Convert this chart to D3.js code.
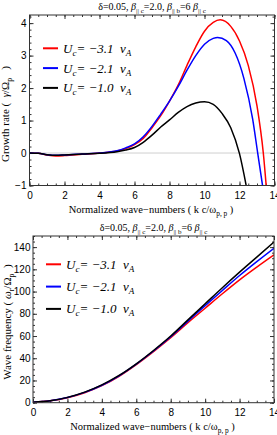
<!DOCTYPE html>
<html>
<head>
<meta charset="utf-8">
<script src="https://cdn.jsdelivr.net/npm/d3@7"></script>
<style>
body { margin: 0; background: #fff; }
svg text { font-family: "Liberation Serif", "Times New Roman", serif; fill: #000; white-space: pre; }
.tick text { font-family: "Liberation Sans", Arial, sans-serif; font-size: 10px; }
.tick line { stroke: #333; }
</style>
</head>
<body>
<div id="chart"></div>
<script>
// Legend values (U_c in units of v_A)
var seriesNames = ["-3.1", "-2.1", "-1.0"];

// Growth rate (gamma / Omega_p) vs k, one k-array per curve
var growthRedK = [0, 0.5, 1, 1.5, 2, 3, 4, 5, 5.5, 6, 6.5, 7, 7.5, 8, 8.5, 9, 9.5, 10, 10.5, 10.9, 11.5, 12, 12.5, 13, 13.36, 13.6];
var growthRed = [0, -0.01, -0.06, -0.09, -0.08, -0.04, 0, 0.06, 0.14, 0.26, 0.45, 0.78, 1.15, 1.6, 2.1, 2.7, 3.27, 3.75, 4.02, 4.1, 3.9, 3.45, 2.7, 1.45, 0, -1.5];
var growthBlueK = [0, 0.5, 1, 1.5, 2, 3, 4, 5, 5.5, 6, 6.5, 7, 7.5, 8, 8.5, 9, 9.5, 10, 10.5, 10.75, 11.25, 11.75, 12.25, 12.75, 13.04, 13.4];
var growthBlue = [0, -0.01, -0.05, -0.07, -0.06, -0.03, 0, 0.07, 0.16, 0.28, 0.5, 0.82, 1.2, 1.6, 2.05, 2.55, 3.0, 3.35, 3.53, 3.56, 3.46, 3.08, 2.3, 1.05, 0, -1.3];
var growthBlackK = [0, 0.5, 1, 1.5, 2, 3, 4, 5, 5.5, 6, 6.5, 7, 7.5, 8, 8.5, 9, 9.5, 10, 10.5, 11, 11.5, 12, 12.4];
var growthBlack = [0, -0.01, -0.05, -0.07, -0.06, -0.03, -0.01, 0.04, 0.09, 0.17, 0.33, 0.55, 0.8, 1.02, 1.25, 1.43, 1.54, 1.58, 1.5, 1.22, 0.78, -0.02, -1.05];

// Wave frequency (omega_r / Omega_p) vs k
var freqK = [0, 1, 2, 3, 4, 5, 6, 7, 8, 9, 10, 11, 12, 13, 14];
var freqRed = [0.5, 1.7, 4.5, 9, 15.3, 23.8, 34.3, 46, 58.5, 72, 85, 98, 110.5, 122, 133];
var freqBlue = [0.5, 1.8, 4.7, 9.3, 15.7, 24.2, 34.7, 46.5, 59.3, 73.3, 87.3, 101, 114.5, 127, 139];
var freqBlack = [0.5, 1.8, 4.8, 9.5, 16, 24.5, 35, 47, 60, 74.5, 89, 103.5, 117.5, 131, 144.5];

// Tick values
var kTicks = [0, 2, 4, 6, 8, 10, 12, 14];
var growthTicks = [-1, 0, 1, 2, 3, 4];
var freqTicks = [0, 20, 40, 60, 80, 100, 120, 140];

var colors = ["#ff0000", "#0000ff", "#000000"];

var svg = d3.select("#chart")
    .append("svg")
    .attr("width", 277)
    .attr("height", 435);

function zip(ks, vs) {
    return ks.map(function(k, i) { return [k, vs[i]]; });
}

// write text made of parts: {t, sub, it}
function richText(sel, parts) {
    var shift = 0;
    parts.forEach(function(p) {
        var target = p.sub ? 3 : 0;
        var ts = sel.append("tspan").text(p.t);
        if (target !== shift) {
            ts.attr("dy", target - shift);
            shift = target;
        }
        if (p.sub) ts.attr("font-size", "70%");
        if (p.it) ts.attr("font-style", "italic");
    });
}

var titleParts = [
    {t: "\u03b4=0.05, "}, {t: "\u03b2", it: true}, {t: "|| c", sub: true},
    {t: "=2.0, "}, {t: "\u03b2", it: true}, {t: "|| b", sub: true},
    {t: "=6 "}, {t: "\u03b2", it: true}, {t: "|| c", sub: true}
];
var xLabelParts = [
    {t: "Normalized wave\u2212numbers ( k c/\u03c9"}, {t: "p, p", sub: true}, {t: " )"}
];

function drawPanel(cfg) {
    var x = d3.scaleLinear().domain([0, 14]).range([cfg.left, cfg.right]);
    var y = d3.scaleLinear().domain(cfg.yDomain).range([cfg.bottom, cfg.top]);

    var g = svg.append("g");
    var clipId = "clip" + cfg.id;
    g.append("clipPath").attr("id", clipId)
        .append("rect")
        .attr("x", cfg.left).attr("y", cfg.top)
        .attr("width", cfg.right - cfg.left).attr("height", cfg.bottom - cfg.top);

    if (cfg.zeroLine) {
        g.append("line")
            .attr("x1", cfg.left).attr("x2", cfg.right)
            .attr("y1", y(0)).attr("y2", y(0))
            .attr("stroke", "#cfcfcf").attr("stroke-width", 1);
    }

    var xMinor = d3.range(0, 14.01, 0.5);
    var yMinor = d3.range(cfg.yDomain[0], cfg.yDomain[1] + 1e-6, cfg.yMinorStep);

    // major + minor ticks on all four sides, pointing inward
    function ticks(axisFn, scale, values, size, transform, labels, pad) {
        var a = axisFn(scale).tickValues(values).tickSize(-size).tickPadding(pad || 3);
        if (!labels) a.tickFormat("");
        else a.tickFormat(d3.format("d"));
        var ag = g.append("g").attr("transform", transform).call(a);
        ag.select(".domain").remove();
        return ag;
    }
    ticks(d3.axisBottom, x, xMinor, 2, "translate(0," + cfg.bottom + ")", false);
    ticks(d3.axisTop, x, xMinor, 2, "translate(0," + cfg.top + ")", false);
    ticks(d3.axisLeft, y, yMinor, 2, "translate(" + cfg.left + ",0)", false);
    ticks(d3.axisRight, y, yMinor, 2, "translate(" + cfg.right + ",0)", false);
    ticks(d3.axisBottom, x, kTicks, 4, "translate(0," + cfg.bottom + ")", true, 6);
    ticks(d3.axisTop, x, kTicks, 4, "translate(0," + cfg.top + ")", false);
    ticks(d3.axisLeft, y, cfg.yTicks, 4, "translate(" + cfg.left + ",0)", true, cfg.yPad);
    ticks(d3.axisRight, y, cfg.yTicks, 4, "translate(" + cfg.right + ",0)", false);

    var line = d3.line()
        .x(function(d) { return x(d[0]); })
        .y(function(d) { return y(d[1]); })
        .curve(d3.curveMonotoneX);

    g.append("g").attr("clip-path", "url(#" + clipId + ")")
        .selectAll("path")
        .data(cfg.series)
        .enter()
        .append("path")
        .attr("d", function(d) { return line(d); })
        .attr("fill", "none")
        .attr("stroke", function(d, i) { return colors[i]; })
        .attr("stroke-width", 1.5);

    // frame
    g.append("rect")
        .attr("x", cfg.left).attr("y", cfg.top)
        .attr("width", cfg.right - cfg.left).attr("height", cfg.bottom - cfg.top)
        .attr("fill", "none").attr("stroke", "#333").attr("stroke-width", 1);

    // legend
    var leg = g.selectAll(".leg")
        .data(seriesNames)
        .enter()
        .append("g")
        .attr("transform", function(d, i) { return "translate(" + cfg.legX + "," + (cfg.legY + i * cfg.legGap) + ")"; });
    leg.append("line")
        .attr("x1", 0).attr("x2", 15)
        .attr("stroke", function(d, i) { return colors[i]; })
        .attr("stroke-width", 2);
    leg.each(function(d) {
        var t = d3.select(this).append("text")
            .attr("x", 20).attr("y", 4.5)
            .attr("font-size", "13px")
            .attr("font-style", "italic");
        richText(t, [{t: "U"}, {t: "c", sub: true}, {t: "= " + d.replace("-", "\u2212") + "  v"}, {t: "A", sub: true}]);
    });

    // title
    var tt = g.append("text")
        .attr("x", (cfg.left + cfg.right) / 2)
        .attr("y", cfg.top - 5)
        .attr("text-anchor", "middle")
        .attr("font-size", "10px");
    richText(tt, titleParts);

    // x label
    var xl = g.append("text")
        .attr("x", (cfg.left + cfg.right) / 2 - 1)
        .attr("y", cfg.bottom + 27)
        .attr("text-anchor", "middle")
        .attr("font-size", "10.5px");
    richText(xl, xLabelParts);

    // y label
    var yl = g.append("text")
        .attr("transform", "translate(" + cfg.yLabelX + "," + cfg.yLabelY + ") rotate(-90)")
        .attr("text-anchor", "middle")
        .attr("font-size", "11px");
    richText(yl, cfg.yLabel);
}

drawPanel({
    id: 1, left: 29.5, right: 274.5, top: 15, bottom: 185.5,
    yDomain: [-1, 4.25], yTicks: growthTicks, yMinorStep: 0.2, yPad: 3,
    zeroLine: true,
    series: [zip(growthRedK, growthRed), zip(growthBlueK, growthBlue), zip(growthBlackK, growthBlack)],
    legX: 43, legY: 48.3, legGap: 19.8,
    yLabelX: 8.5, yLabelY: 114,
    yLabel: [{t: "Growth rate (  "}, {t: "\u03b3", it: true}, {t: "/\u03a9"}, {t: "p", sub: true}, {t: "   )"}]
});

drawPanel({
    id: 2, left: 33, right: 274, top: 236, bottom: 402.7,
    yDomain: [0, 150], yTicks: freqTicks, yMinorStep: 5, yPad: 2.5,
    zeroLine: false,
    series: [zip(freqK, freqRed), zip(freqK, freqBlue), zip(freqK, freqBlack)],
    legX: 46, legY: 264.3, legGap: 22.3,
    yLabelX: 10.5, yLabelY: 322,
    yLabel: [{t: "Wave frequency ( "}, {t: "\u03c9", it: true}, {t: "r", sub: true}, {t: "/\u03a9"}, {t: "p", sub: true}, {t: "  )"}]
});
</script>
</body>
</html>
